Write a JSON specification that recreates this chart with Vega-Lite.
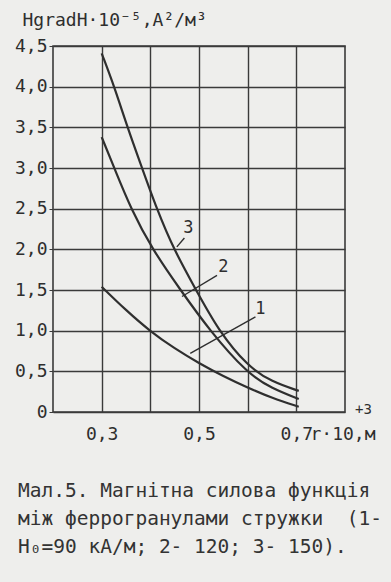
{
  "$schema": "https://vega.github.io/schema/vega-lite/v6.json",
  "width": 292,
  "height": 366,
  "autosize": {"type": "none"},
  "padding": {"left": 53, "top": 46, "right": 46, "bottom": 170},
  "background": "#eeeeec",
  "config": {
    "font": "DejaVu Sans Mono",
    "view": {"stroke": "#3a3a3a", "strokeWidth": 1.6},
    "axis": {"gridColor": "#3a3a3a", "gridWidth": 1.4, "gridOpacity": 1, "domain": false, "labelColor": "#2e2e2e", "titleColor": "#2e2e2e", "labelFont": "DejaVu Sans Mono", "titleFont": "DejaVu Sans Mono", "labelFontWeight": "normal", "titleFontWeight": "normal"}
  },
  "title": {
    "text": ["Мал.5. Магнітна силова функція", "між феррогранулами стружки\u00a0\u00a0(1-", "Н₀=90 кА/м; 2- 120; 3- 150)."],
    "orient": "bottom",
    "anchor": "start",
    "frame": "group",
    "dx": -35,
    "offset": 39,
    "font": "DejaVu Sans Mono",
    "fontSize": 19.5,
    "fontWeight": "normal",
    "color": "#333333",
    "lineHeight": 28
  },
  "datasets": {
    "curves": [
      {"curve": "3", "r": 0.3, "v": 4.41},
      {"curve": "3", "r": 0.326, "v": 4.0},
      {"curve": "3", "r": 0.353, "v": 3.5},
      {"curve": "3", "r": 0.383, "v": 3.0},
      {"curve": "3", "r": 0.413, "v": 2.5},
      {"curve": "3", "r": 0.448, "v": 2.0},
      {"curve": "3", "r": 0.494, "v": 1.5},
      {"curve": "3", "r": 0.54, "v": 1.0},
      {"curve": "3", "r": 0.6, "v": 0.56},
      {"curve": "3", "r": 0.65, "v": 0.37},
      {"curve": "3", "r": 0.705, "v": 0.26},
      {"curve": "2", "r": 0.3, "v": 3.38},
      {"curve": "2", "r": 0.326, "v": 3.0},
      {"curve": "2", "r": 0.36, "v": 2.5},
      {"curve": "2", "r": 0.404, "v": 2.0},
      {"curve": "2", "r": 0.462, "v": 1.5},
      {"curve": "2", "r": 0.522, "v": 1.0},
      {"curve": "2", "r": 0.6, "v": 0.47},
      {"curve": "2", "r": 0.65, "v": 0.29},
      {"curve": "2", "r": 0.705, "v": 0.16},
      {"curve": "1", "r": 0.3, "v": 1.54},
      {"curve": "1", "r": 0.35, "v": 1.25},
      {"curve": "1", "r": 0.4, "v": 0.99},
      {"curve": "1", "r": 0.45, "v": 0.78},
      {"curve": "1", "r": 0.5, "v": 0.6},
      {"curve": "1", "r": 0.55, "v": 0.44},
      {"curve": "1", "r": 0.6, "v": 0.3},
      {"curve": "1", "r": 0.65, "v": 0.17},
      {"curve": "1", "r": 0.705, "v": 0.065}
    ],
    "leaders": [
      {"label": "3", "r1": 0.4545, "v1": 2.03, "r2": 0.47, "v2": 2.14, "lr": 0.478, "lv": 2.26},
      {"label": "2", "r1": 0.465, "v1": 1.42, "r2": 0.537, "v2": 1.68, "lr": 0.55, "lv": 1.78},
      {"label": "1", "r1": 0.482, "v1": 0.72, "r2": 0.616, "v2": 1.17, "lr": 0.626, "lv": 1.27}
    ],
    "extra": [
      {"t": "+3", "r": 0.838, "v": 0.02}
    ]
  },
  "layer": [
    {
      "data": {"name": "curves"},
      "mark": {"type": "line", "interpolate": "basis", "color": "#2f2f2f", "strokeWidth": 2.2},
      "encoding": {
        "x": {
          "field": "r", "type": "quantitative",
          "scale": {"domain": [0.2, 0.8], "nice": false, "zero": false},
          "axis": {
            "values": [0.3, 0.4, 0.5, 0.6, 0.7],
            "labelExpr": "datum.value == 0.3 ? '0,3' : datum.value == 0.5 ? '0,5' : datum.value == 0.7 ? '0,7' : ''",
            "ticks": false,
            "labelPadding": 13,
            "labelFontSize": 18,
            "title": "r·10,м",
            "titleFontSize": 18,
            "titleAlign": "left",
            "titleBaseline": "middle",
            "titleX": 257,
            "titleY": 22
          }
        },
        "y": {
          "field": "v", "type": "quantitative",
          "scale": {"domain": [0, 4.5], "nice": false},
          "axis": {
            "values": [0, 0.5, 1, 1.5, 2, 2.5, 3, 3.5, 4, 4.5],
            "labelExpr": "datum.value == 0 ? '0' : replace(format(datum.value, '.1f'), '.', ',')",
            "tickSize": 4,
            "tickColor": "#3a3a3a",
            "labelPadding": 2,
            "labelFontSize": 18,
            "title": "HgradH·10⁻⁵,A²/м³",
            "titleFontSize": 18,
            "titleAngle": 0,
            "titleAlign": "left",
            "titleBaseline": "middle",
            "titleX": -31,
            "titleY": -26
          }
        },
        "detail": {"field": "curve"}
      }
    },
    {
      "data": {"name": "leaders"},
      "mark": {"type": "rule", "color": "#2f2f2f", "strokeWidth": 1.4},
      "encoding": {
        "x": {"field": "r1", "type": "quantitative"},
        "y": {"field": "v1", "type": "quantitative"},
        "x2": {"field": "r2"},
        "y2": {"field": "v2"}
      }
    },
    {
      "data": {"name": "leaders"},
      "mark": {"type": "text", "fontSize": 17, "color": "#2f2f2f", "font": "DejaVu Sans Mono"},
      "encoding": {
        "x": {"field": "lr", "type": "quantitative"},
        "y": {"field": "lv", "type": "quantitative"},
        "text": {"field": "label"}
      }
    },
    {
      "data": {"name": "extra"},
      "mark": {"type": "text", "fontSize": 14, "color": "#2f2f2f", "font": "DejaVu Sans Mono", "clip": false},
      "encoding": {
        "x": {"field": "r", "type": "quantitative"},
        "y": {"field": "v", "type": "quantitative"},
        "text": {"field": "t"}
      }
    }
  ]
}
